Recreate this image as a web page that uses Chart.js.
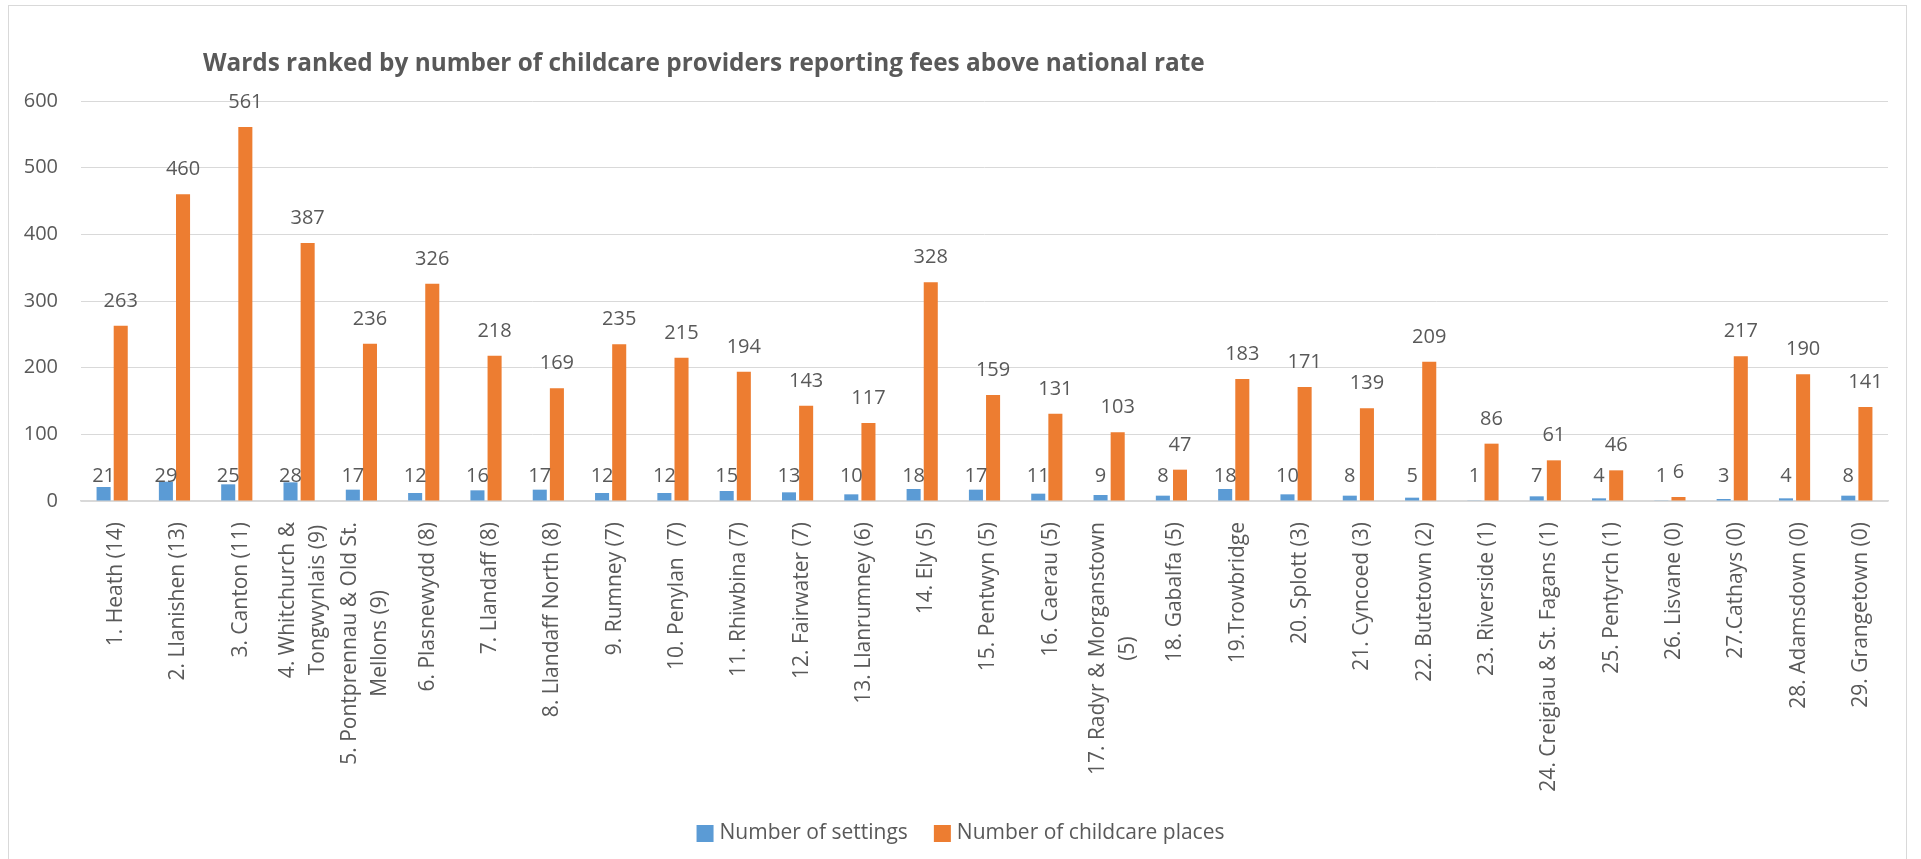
<!DOCTYPE html>
<html>
<head>
<meta charset="utf-8">
<script src="https://cdn.jsdelivr.net/npm/chart.js@4.4.1/dist/chart.umd.min.js"></script>
<style>
  html, body { margin: 0; padding: 0; background: #fff; }
  body { width: 1921px; height: 859px; overflow: hidden; position: relative; }
  #frame { position: absolute; left: 8px; top: 5px; width: 1899px; height: 880px; border: 1px solid #d9d9d9; box-sizing: border-box; }
  #wrap { position: absolute; left: 0; top: 0; width: 1921px; height: 859px; }
</style>
</head>
<body>
<div id="frame"></div>
<div id="wrap"><canvas id="chart"></canvas></div>
<script>
const chartTitle = "Wards ranked by number of childcare providers reporting fees above national rate";

const wards = [
  "1. Heath (14)", "2. Llanishen (13)", "3. Canton (11)",
  ["4. Whitchurch &", "Tongwynlais (9)"],
  ["5. Pontprennau & Old St.", "Mellons (9)"],
  "6. Plasnewydd (8)", "7. Llandaff (8)", "8. Llandaff North (8)", "9. Rumney (7)",
  "10. Penylan  (7)", "11. Rhiwbina (7)", "12. Fairwater (7)", "13. Llanrumney (6)",
  "14. Ely (5)", "15. Pentwyn (5)", "16. Caerau (5)",
  ["17. Radyr & Morganstown", "(5)"],
  "18. Gabalfa (5)", "19.Trowbridge", "20. Splott (3)", "21. Cyncoed (3)",
  "22. Butetown (2)", "23. Riverside (1)", "24. Creigiau & St. Fagans (1)",
  "25. Pentyrch (1)", "26. Lisvane (0)", "27.Cathays (0)", "28. Adamsdown (0)",
  "29. Grangetown (0)"
];
const settings = [21, 29, 25, 28, 17, 12, 16, 17, 12, 12, 15, 13, 10, 18, 17, 11, 9, 8, 18, 10, 8, 5, 1, 7, 4, 1, 3, 4, 8];
const places = [263, 460, 561, 387, 236, 326, 218, 169, 235, 215, 194, 143, 117, 328, 159, 131, 103, 47, 183, 171, 139, 209, 86, 61, 46, 6, 217, 190, 141];
const yTicks = [0, 100, 200, 300, 400, 500, 600];

const textColor = "#595959";
const fontFamily = "'Open Sans', sans-serif";

// title sits left of centre in the original, so it is drawn by hand
const titlePlugin = {
  id: "wardTitle",
  afterDraw(chart) {
    const ctx = chart.ctx;
    ctx.save();
    ctx.font = "bold 22px " + fontFamily;
    // stretch the font so the line spans the same width as the original
    const size = 22 * 1002 / ctx.measureText(chartTitle).width;
    ctx.font = "bold " + size.toFixed(2) + "px " + fontFamily;
    ctx.fillStyle = textColor;
    ctx.textAlign = "left";
    ctx.textBaseline = "alphabetic";
    ctx.fillText(chartTitle, 203, 71);
    ctx.restore();
  }
};

// rotated category labels, lines centred on each other like Excel does
const wardLabels = {
  id: "wardLabels",
  afterDraw(chart) {
    const x = chart.scales.x;
    const ctx = chart.ctx;
    ctx.save();
    ctx.font = "21px " + fontFamily;
    ctx.fillStyle = textColor;
    ctx.textAlign = "center";
    ctx.textBaseline = "middle";
    wards.forEach((w, i) => {
      const lines = Array.isArray(w) ? w : [w];
      const maxW = Math.max(...lines.map(l => ctx.measureText(l).width));
      const cx = x.getPixelForValue(i) + 4;
      const cy = x.top + 21 + maxW / 2;
      ctx.save();
      ctx.translate(cx, cy);
      ctx.rotate(-Math.PI / 2);
      lines.forEach((l, k) => {
        ctx.fillText(l, 0, (k - (lines.length - 1) / 2) * 30);
      });
      ctx.restore();
    });
    ctx.restore();
  }
};

const valueLabels = {
  id: "valueLabels",
  afterDatasetsDraw(chart) {
    const ctx = chart.ctx;
    const zero = chart.scales.y.getPixelForValue(0);
    ctx.save();
    ctx.font = "20px " + fontFamily;
    ctx.fillStyle = textColor;
    ctx.textAlign = "center";
    ctx.textBaseline = "alphabetic";
    chart.data.datasets.forEach((ds, d) => {
      chart.getDatasetMeta(d).data.forEach((bar, i) => {
        const base = d === 0 ? zero : bar.y;
        ctx.fillText(String(ds.data[i]), bar.x, base - 19);
      });
    });
    ctx.restore();
  }
};

// legend row centred on the page with a tighter box/text gap than Chart.js uses
const legendPlugin = {
  id: "wardLegend",
  afterDraw(chart) {
    const ctx = chart.ctx;
    ctx.save();
    ctx.font = "21px " + fontFamily;
    const items = chart.data.datasets.map(ds => ({
      text: ds.label,
      color: ds.backgroundColor,
      w: ctx.measureText(ds.label).width
    }));
    const box = 17, gap = 6, spacing = 26;
    const total = items.reduce((s, it) => s + box + gap + it.w, 0) + spacing * (items.length - 1);
    let x = chart.width / 2 - total / 2;
    const cy = 833.5;
    ctx.textAlign = "left";
    ctx.textBaseline = "middle";
    items.forEach(it => {
      ctx.fillStyle = it.color;
      ctx.fillRect(x, cy - box / 2, box, box);
      ctx.fillStyle = textColor;
      ctx.fillText(it.text, x + box + gap, cy);
      x += box + gap + it.w + spacing;
    });
    ctx.restore();
  }
};

new Chart(document.getElementById("chart"), {
  type: "bar",
  data: {
    labels: wards,
    datasets: [
      { label: "Number of settings", data: settings, backgroundColor: "#5B9BD5" },
      { label: "Number of childcare places", data: places, backgroundColor: "#ED7D31" }
    ]
  },
  options: {
    responsive: true,
    maintainAspectRatio: false,
    animation: false,
    layout: { padding: { top: 101, left: 0, right: 33, bottom: 0 } },
    datasets: { bar: { categoryPercentage: 0.55, barPercentage: 0.82 } },
    plugins: {
      title: { display: false },
      tooltip: { enabled: false },
      legend: { display: false }
    },
    scales: {
      x: {
        grid: { display: false },
        border: { display: true, color: "#d9d9d9", width: 1.5 },
        ticks: { display: false },
        afterFit(s) { s.height = 358; }
      },
      y: {
        min: 0,
        max: 600,
        afterBuildTicks(s) { s.ticks = yTicks.map(v => ({ value: v })); },
        grid: { color: "#d9d9d9", drawTicks: false },
        border: { display: false },
        ticks: { font: { family: fontFamily, size: 20 }, color: textColor, padding: 23 },
        afterFit(s) { s.width = 81; }
      }
    }
  },
  plugins: [valueLabels, wardLabels, titlePlugin, legendPlugin]
});
</script>
</body>
</html>
